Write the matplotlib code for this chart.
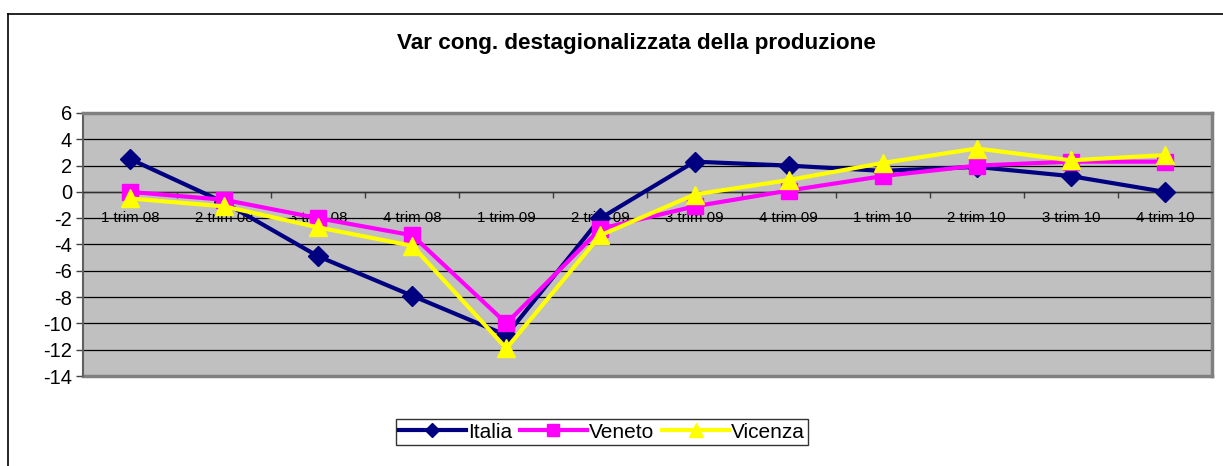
import numpy as np
import matplotlib
matplotlib.use("Agg")
import matplotlib.pyplot as plt
from matplotlib.lines import Line2D

plt.rcParams['font.family'] = ['Liberation Sans', 'DejaVu Sans']

# data
quarters = ['1 trim 08', '2 trim 08', '3 trim 08', '4 trim 08',
            '1 trim 09', '2 trim 09', '3 trim 09', '4 trim 09',
            '1 trim 10', '2 trim 10', '3 trim 10', '4 trim 10']
italia = [2.5, -0.8, -4.9, -7.9, -10.9, -2.0, 2.3, 2.0, 1.6, 1.9, 1.2, 0.0]
veneto = [0.0, -0.6, -2.0, -3.3, -10.0, -2.8, -1.1, 0.1, 1.2, 2.0, 2.3, 2.3]
vicenza = [-0.5, -1.1, -2.7, -4.1, -11.9, -3.3, -0.2, 0.9, 2.2, 3.3, 2.4, 2.8]
yticks = [6, 4, 2, 0, -2, -4, -6, -8, -10, -12, -14]

W, H = 1223, 466
fig = plt.figure(figsize=(W / 100, H / 100), dpi=100)

# outer chart frame (only left and top edges fall inside the image)
fig.add_artist(Line2D([8 / W, 8 / W], [0, 1 - 14 / H], color='black', lw=1.2,
                      transform=fig.transFigure))
fig.add_artist(Line2D([8 / W, 1], [1 - 14 / H, 1 - 14 / H], color='black', lw=1.2,
                      transform=fig.transFigure))

ax = fig.add_axes([83 / W, 1 - 376 / H, (1212 - 83) / W, (376 - 113) / H])
ax.set_facecolor('#C0C0C0')

x = np.arange(len(quarters))
ax.plot(x, italia, color='#000080', lw=3, marker='D', ms=10, mec='#000080',
        label='Italia', zorder=3)
ax.plot(x, veneto, color='#FF00FF', lw=3, marker='s', ms=11, mec='#FF00FF',
        label='Veneto', zorder=4)
ax.plot(x, vicenza, color='#FFFF00', lw=3, marker='^', ms=13, mec='#FFFF00',
        label='Vicenza', zorder=5)

ax.set_xlim(-0.5, len(quarters) - 0.5)
ax.set_ylim(-14, 6)
ax.set_yticks(yticks)
ax.set_yticklabels([str(v) for v in yticks])
ax.yaxis.grid(True, color='black', lw=0.9)
ax.set_axisbelow(True)
ax.tick_params(axis='y', labelsize=14.5, length=5, width=1, color='#404040', pad=3)

# category axis crosses at zero
ax.set_xticks(np.arange(-0.5, len(quarters), 1.0))
ax.set_xticklabels([])
ax.set_xticks(x, minor=True)
ax.set_xticklabels(quarters, minor=True)
ax.tick_params(axis='x', which='major', direction='out', length=4, width=1, color='#404040')
ax.tick_params(axis='x', which='minor', length=0, labelsize=10.8, pad=14)
ax.spines['bottom'].set_position(('data', 0))
ax.spines['bottom'].set_color('#303030')
ax.spines['bottom'].set_linewidth(1)

for side in ['top', 'right']:
    ax.spines[side].set_color('#808080')
    ax.spines[side].set_linewidth(2.5)
ax.spines['left'].set_color('#606060')
ax.spines['left'].set_linewidth(1.5)

# bottom border of the plot area (the bottom spine sits at zero)
ax.add_artist(Line2D([0, 1], [0, 0], color='#808080', lw=2.5,
                     transform=ax.transAxes, clip_on=False))

fig.text(636 / W, 1 - 43 / H, 'Var cong. destagionalizzata della produzione',
         ha='center', va='center', fontsize=16.2, fontweight='bold')

leg = fig.legend(loc='center', bbox_to_anchor=(602 / W, 1 - 432 / H), ncol=3,
                 fontsize=15, frameon=True, fancybox=False, handlelength=3.2,
                 handletextpad=0.1, columnspacing=0.4, borderpad=0.15,
                 borderaxespad=0, markerscale=0.75)
leg.get_frame().set_edgecolor('black')
leg.get_frame().set_linewidth(1)

fig.savefig('out.png', dpi=100)
